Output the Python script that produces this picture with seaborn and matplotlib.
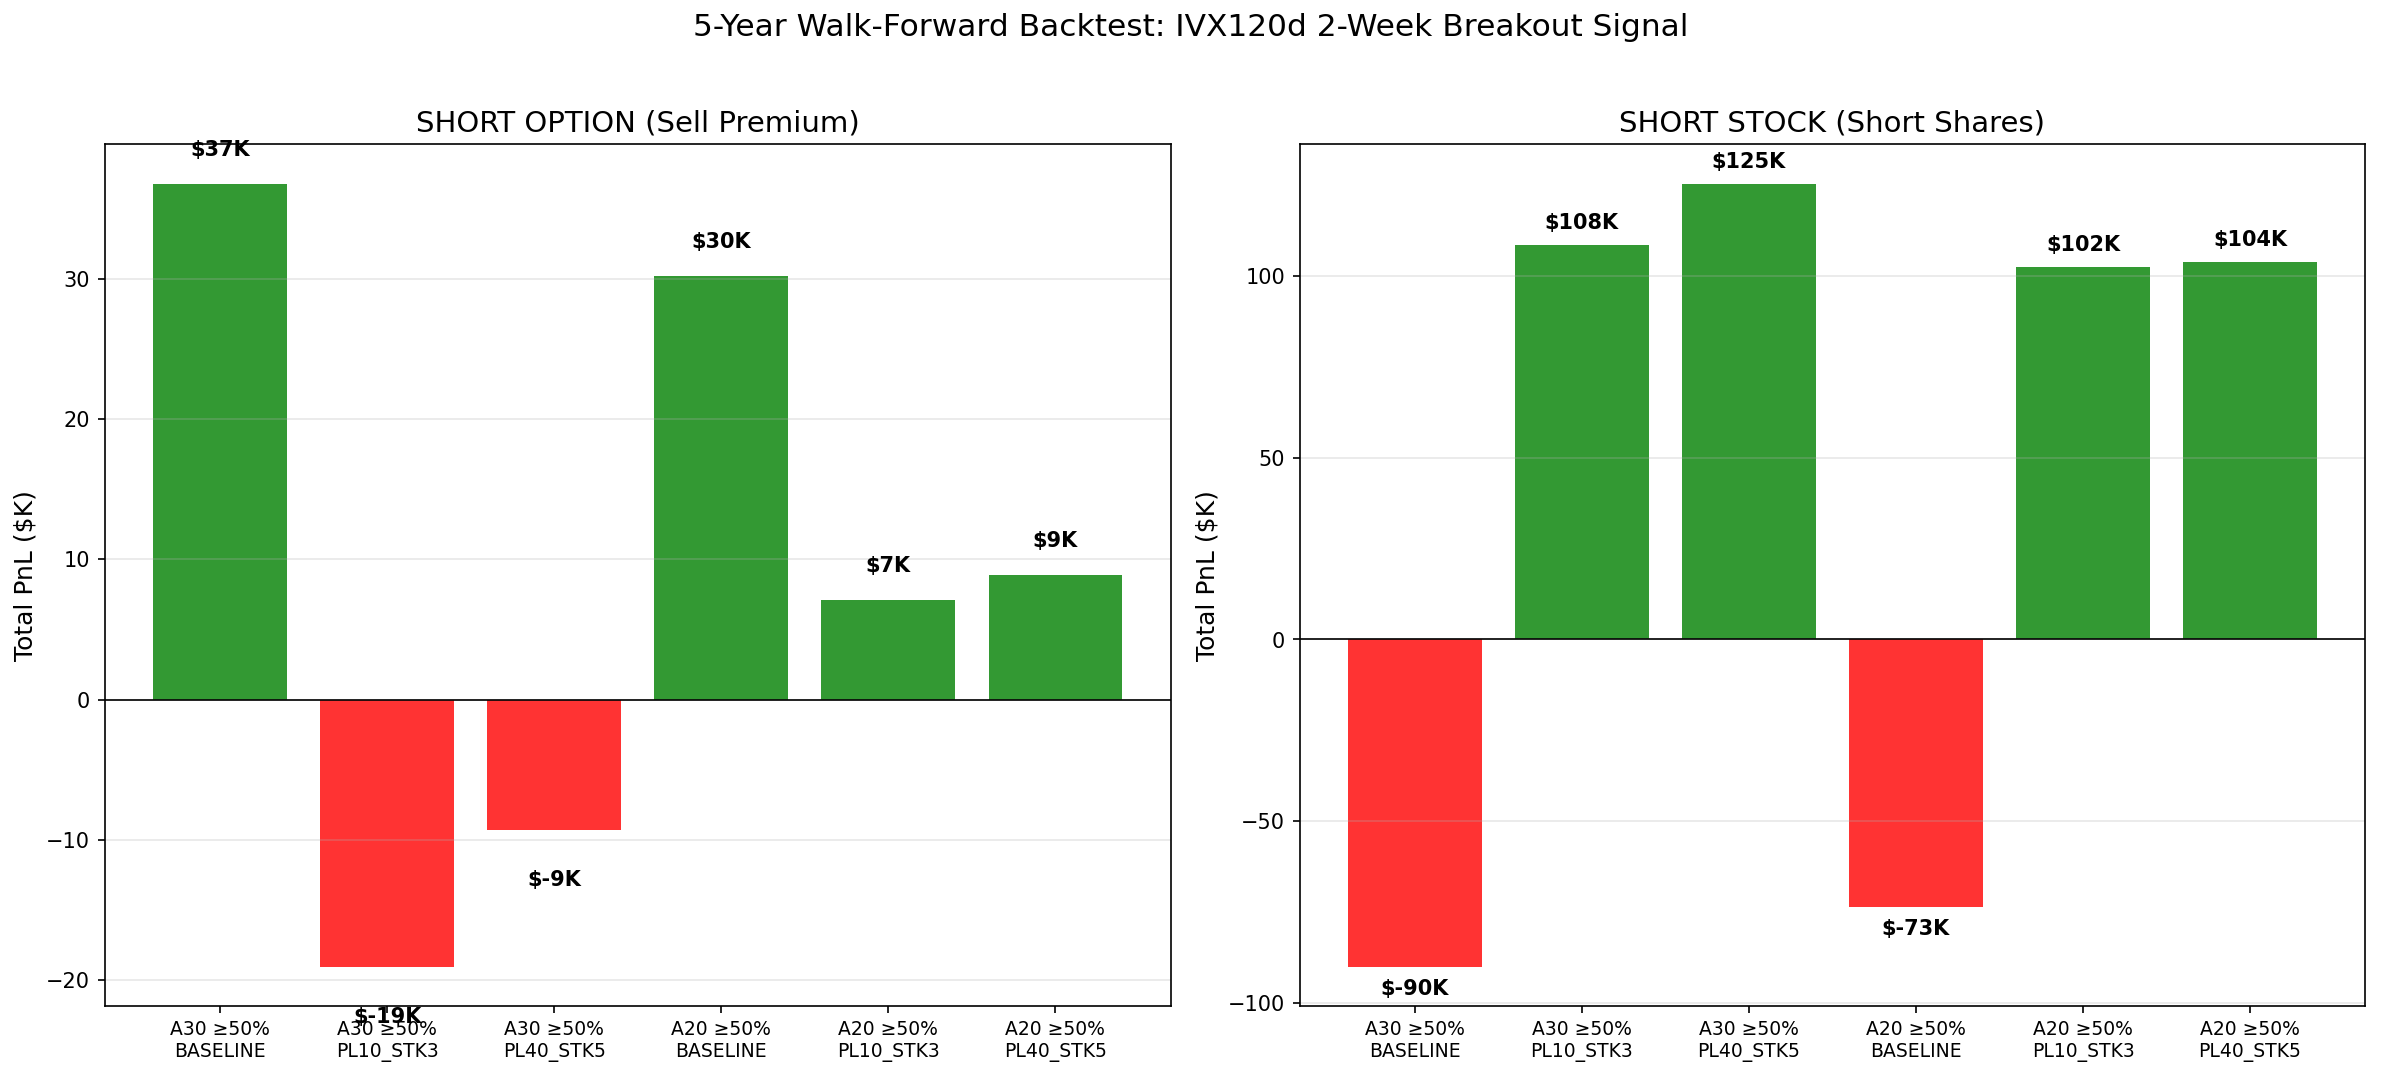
import matplotlib
matplotlib.use('Agg')
import matplotlib.pyplot as plt
import seaborn as sns

# configs on x axis
configs = ['A30 ≥50%\nBASELINE', 'A30 ≥50%\nPL10_STK3', 'A30 ≥50%\nPL40_STK5',
           'A20 ≥50%\nBASELINE', 'A20 ≥50%\nPL10_STK3', 'A20 ≥50%\nPL40_STK5']

# total PnL in $K
option_pnl = [36.8, -19.05, -9.3, 30.2, 7.1, 8.88]
stock_pnl = [-89.9, 108.5, 125.3, -73.4, 102.4, 103.8]

fig, axes = plt.subplots(1, 2, figsize=(15.88, 7.187), dpi=150)
plt.subplots_adjust(left=0.044, right=0.993, top=0.866, bottom=0.067, wspace=0.121)


def plot_panel(ax, values, title, off_pos, off_neg):
    colors = ['green' if v > 0 else 'red' for v in values]
    sns.barplot(x=configs, y=values, hue=configs, palette=colors, legend=False,
                saturation=1, alpha=0.8, width=0.8, ax=ax)
    ax.axhline(0, color='black', linewidth=0.8)
    ax.set_xlim(-0.69, len(configs) - 0.31)
    ax.set_title(title, fontsize=14)
    ax.set_ylabel('Total PnL ($K)', fontsize=12)
    ax.tick_params(axis='x', labelsize=9)
    ax.grid(axis='y', alpha=0.3)
    for i, v in enumerate(values):
        y = v + off_pos if v > 0 else v - off_neg
        ax.text(i, y, f'${v:.0f}K', ha='center', va='center',
                fontweight='bold', fontsize=10)


plot_panel(axes[0], option_pnl, 'SHORT OPTION (Sell Premium)', 2.4, 3.6)
plot_panel(axes[1], stock_pnl, 'SHORT STOCK (Short Shares)', 5.9, 6.1)

fig.suptitle('5-Year Walk-Forward Backtest: IVX120d 2-Week Breakout Signal', fontsize=15, y=0.988)
plt.savefig('out.png', dpi=150)
